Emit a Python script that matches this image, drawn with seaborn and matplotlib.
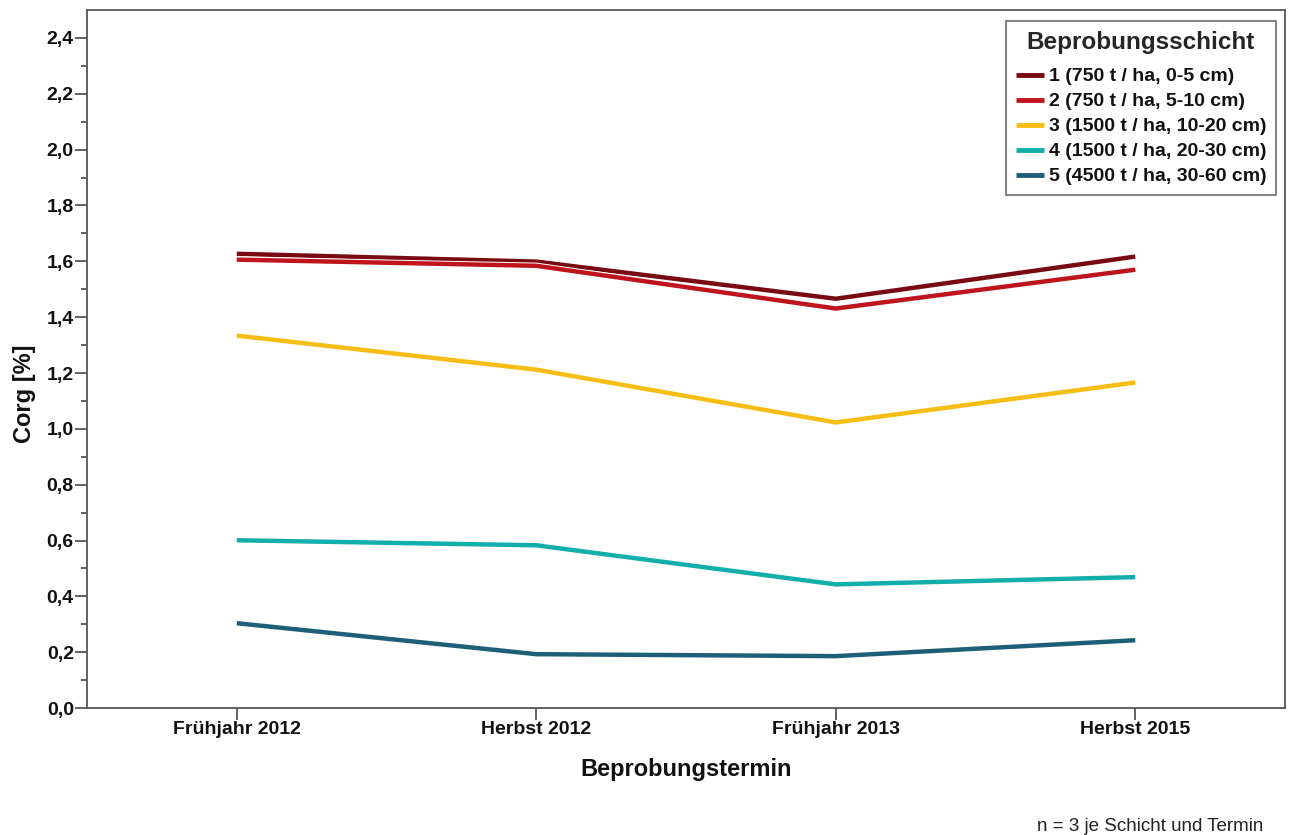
import numpy as np
import pandas as pd
import matplotlib
matplotlib.use("Agg")
import matplotlib.pyplot as plt
import matplotlib.patheffects as pe
from matplotlib.ticker import MultipleLocator, FixedLocator, FuncFormatter
import seaborn as sns

# ================= DATEN =================
termine = ["Frühjahr 2012", "Herbst 2012", "Frühjahr 2013", "Herbst 2015"]
schichten = [
    "1 (750 t / ha, 0-5 cm)",
    "2 (750 t / ha, 5-10 cm)",
    "3 (1500 t / ha, 10-20 cm)",
    "4 (1500 t / ha, 20-30 cm)",
    "5 (4500 t / ha, 30-60 cm)",
]
corg_1 = [1.627, 1.599, 1.466, 1.617]
corg_2 = [1.606, 1.584, 1.431, 1.570]
corg_3 = [1.334, 1.212, 1.023, 1.166]
corg_4 = [0.601, 0.583, 0.443, 0.469]
corg_5 = [0.304, 0.193, 0.186, 0.243]
farben = ["#7a0a12", "#c0141c", "#f6be14", "#12aeaa", "#1e5f78"]

werte = [corg_1, corg_2, corg_3, corg_4, corg_5]
rows = []
for s, vals in zip(schichten, werte):
    for i, v in enumerate(vals):
        rows.append({"Termin": i, "Schicht": s, "Corg": v})
df = pd.DataFrame(rows)

# ================= PLOT =================
sns.set_style("white")
plt.rcParams["font.family"] = ["Liberation Sans", "DejaVu Sans"]

fig = plt.figure(figsize=(12.93, 8.35), dpi=100)
ax = fig.add_axes([0.0673, 0.152, 0.9265, 0.836])

sns.lineplot(data=df, x="Termin", y="Corg", hue="Schicht",
             palette=dict(zip(schichten, farben)), linewidth=3.2,
             ax=ax, legend=True)

for line in ax.get_lines():
    line.set_solid_capstyle("butt")
    line.set_path_effects([pe.Stroke(linewidth=4.6, foreground="white"), pe.Normal()])

ax.set_xlim(-0.5, 3.5)
ax.set_ylim(0, 2.5)
ax.set_xticks(range(len(termine)))
ax.set_xticklabels(termine)
ax.yaxis.set_major_locator(MultipleLocator(0.2))
ax.yaxis.set_minor_locator(FixedLocator(np.arange(0.1, 2.4, 0.2)))
ax.yaxis.set_major_formatter(FuncFormatter(lambda v, p: f"{v:.1f}".replace(".", ",")))

for sp in ax.spines.values():
    sp.set_color("#555555")
    sp.set_linewidth(1.3)

ax.tick_params(axis="both", which="major", direction="out", length=8.5, width=1.3,
               color="#555555", labelsize=14, pad=1, left=True, bottom=True)
ax.tick_params(axis="y", which="minor", direction="out", length=4.5, width=1.3,
               color="#555555", left=True)
for lab in ax.get_xticklabels() + ax.get_yticklabels():
    lab.set_fontweight("bold")
    lab.set_color("#111111")

ax.set_xlabel("Beprobungstermin", fontsize=17, fontweight="bold", labelpad=14,
              color="#111111")
ax.set_ylabel("Corg [%]", fontsize=17, fontweight="bold", color="#111111")
ax.yaxis.set_label_coords(-0.043, 0.45)

leg = ax.legend(title="Beprobungsschicht", loc="upper right",
                bbox_to_anchor=(0.9925, 0.984), borderaxespad=0, fontsize=14,
                title_fontproperties={"weight": "bold", "size": 17.5},
                frameon=True, fancybox=False, handlelength=1.45,
                handletextpad=0.25, labelspacing=0.38, borderpad=0.5)
leg._legend_box.sep = 10
leg.get_frame().set_edgecolor("#666666")
leg.get_frame().set_linewidth(1.5)
for t in leg.get_texts():
    t.set_fontweight("bold")
    t.set_color("#111111")
for h in leg.get_lines():
    h.set_linewidth(3.5)
    h.set_solid_capstyle("butt")

fig.text(0.977, 0.0, "n = 3 je Schicht und Termin", ha="right", va="bottom",
         fontsize=13.5, color="#222222")

fig.savefig("out.png", dpi=100)
